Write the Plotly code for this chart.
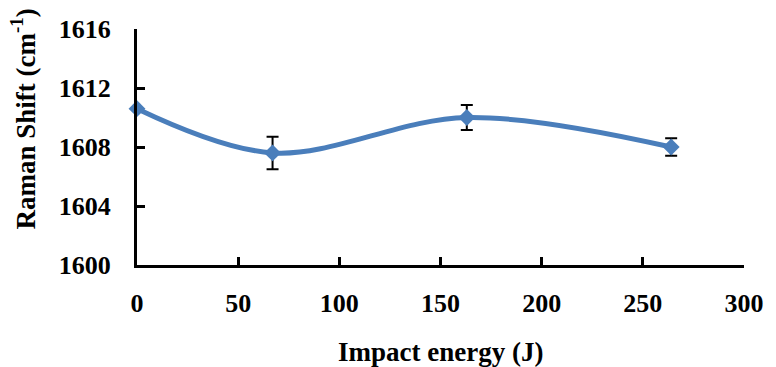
import plotly.graph_objects as go

# Raman G-band position versus impact energy
impact_energy = [0, 67, 163, 264]
raman_shift = [1610.6, 1607.6, 1610.0, 1608.0]
shift_error = [0.0, 1.1, 0.85, 0.6]

x_ticks = [0, 50, 100, 150, 200, 250, 300]
y_ticks = [1600, 1604, 1608, 1612, 1616]

FONT = "Liberation Serif"
BLUE = "#4A7EBB"

fig = go.Figure()
fig.add_trace(go.Scatter(
    x=impact_energy,
    y=raman_shift,
    mode="lines+markers",
    line=dict(color=BLUE, width=5, shape="spline", smoothing=1.0),
    marker=dict(symbol="diamond", size=13, color=BLUE),
    error_y=dict(type="data", array=shift_error, visible=True,
                 color="black", thickness=2, width=6),
    showlegend=False,
    cliponaxis=False,
))

axis_common = dict(
    showline=True, linecolor="black", linewidth=3,
    ticks="inside", ticklen=8, tickwidth=3, tickcolor="black",
    showgrid=False, zeroline=False,
    tickfont=dict(family=FONT, size=26, color="black", weight="bold"),
)

fig.update_xaxes(range=[0, 300], tickvals=x_ticks,
                 ticklabelstandoff=13, **axis_common)
fig.update_yaxes(range=[1600, 1616], tickvals=y_ticks,
                 ticklabelstandoff=18, **axis_common)

fig.add_annotation(
    text="<b>Impact energy (J)</b>", xref="paper", yref="paper",
    x=0.5, y=-0.37, showarrow=False, xanchor="center", yanchor="middle",
    font=dict(family=FONT, size=27, color="black"),
)
fig.add_annotation(
    text="<b>Raman Shift (cm<sup>-1</sup>)</b>", xref="paper", yref="paper",
    x=-0.188, y=0.62, showarrow=False, textangle=-90,
    xanchor="center", yanchor="middle",
    font=dict(family=FONT, size=27, color="black"),
)

fig.update_layout(
    width=776, height=367,
    margin=dict(l=137, r=26, t=29, b=102),
    plot_bgcolor="white", paper_bgcolor="white",
)

fig.write_html("out.html")
